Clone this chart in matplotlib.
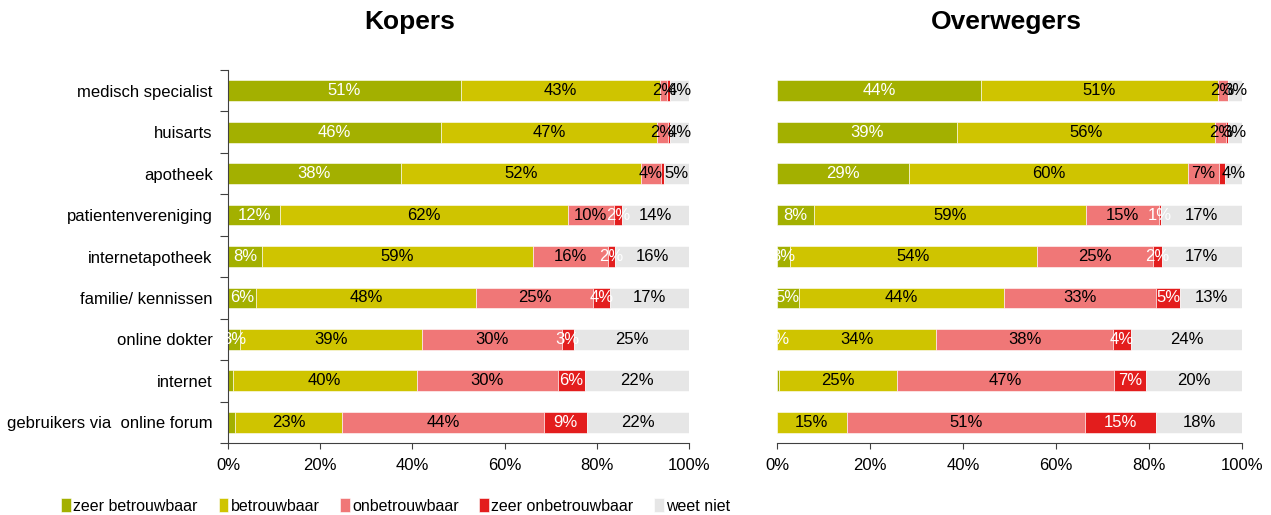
import matplotlib.pyplot as plt
import numpy as np

plt.rcParams['font.family'] = ['Liberation Sans', 'DejaVu Sans']

# categories, top to bottom
categories = ['medisch specialist', 'huisarts', 'apotheek', 'patientenvereniging',
              'internetapotheek', 'familie/ kennissen', 'online dokter', 'internet',
              'gebruikers via  online forum']
series = ['zeer betrouwbaar', 'betrouwbaar', 'onbetrouwbaar', 'zeer onbetrouwbaar', 'weet niet']
colors = ['#a3b000', '#cfc400', '#f07777', '#e31d1d', '#e6e6e6']
text_colors = ['white', 'black', 'black', 'white', 'black']

# Kopers
kop_zeer_betr = [50.5, 46.2, 37.5, 11.3, 7.3, 6.1, 2.6, 1.0, 1.5]
kop_betr = [43.3, 46.8, 52.0, 62.4, 58.9, 47.8, 39.4, 39.9, 23.2]
kop_onbetr = [1.5, 2.4, 4.4, 10.0, 16.2, 25.2, 30.4, 30.6, 43.8]
kop_zeer_onbetr = [0.6, 0.5, 0.7, 1.7, 1.6, 3.8, 2.6, 6.0, 9.4]
kop_weet_niet = [4.1, 4.1, 5.4, 14.6, 16.0, 17.1, 25.0, 22.5, 22.1]
kop_labels = [['51%', '46%', '38%', '12%', '8%', '6%', '3%', '', ''],
              ['43%', '47%', '52%', '62%', '59%', '48%', '39%', '40%', '23%'],
              ['2%', '2%', '4%', '10%', '16%', '25%', '30%', '30%', '44%'],
              ['', '', '', '2%', '2%', '4%', '3%', '6%', '9%'],
              ['4%', '4%', '5%', '14%', '16%', '17%', '25%', '22%', '22%']]

# Overwegers
ovw_zeer_betr = [43.8, 38.7, 28.4, 8.0, 2.7, 4.7, 0.0, 0.4, 0.0]
ovw_betr = [51.0, 55.6, 60.0, 58.4, 53.3, 44.1, 34.3, 25.3, 15.0]
ovw_onbetr = [2.1, 2.3, 6.7, 15.8, 24.9, 32.8, 38.0, 46.8, 51.2]
ovw_zeer_onbetr = [0.1, 0.3, 1.2, 0.3, 1.8, 5.1, 3.8, 6.9, 15.4]
ovw_weet_niet = [3.0, 3.1, 3.7, 17.5, 17.3, 13.3, 23.9, 20.6, 18.4]
ovw_labels = [['44%', '39%', '29%', '8%', '3%', '5%', '0%', '', ''],
              ['51%', '56%', '60%', '59%', '54%', '44%', '34%', '25%', '15%'],
              ['2%', '2%', '7%', '15%', '25%', '33%', '38%', '47%', '51%'],
              ['', '', '', '1%', '2%', '5%', '4%', '7%', '15%'],
              ['3%', '3%', '4%', '17%', '17%', '13%', '24%', '20%', '18%']]

kopers = [kop_zeer_betr, kop_betr, kop_onbetr, kop_zeer_onbetr, kop_weet_niet]
overwegers = [ovw_zeer_betr, ovw_betr, ovw_onbetr, ovw_zeer_onbetr, ovw_weet_niet]

fig = plt.figure(figsize=(12.71, 5.15), dpi=100)
ax1 = fig.add_axes([228/1271, 1-443/515, 461/1271, 373/515])
ax2 = fig.add_axes([777/1271, 1-443/515, 465/1271, 373/515])

y = np.arange(len(categories))
FS = 12


def draw(ax, data, labels, show_cats):
    left = np.zeros(len(categories))
    for i, vals in enumerate(data):
        vals = np.array(vals)
        ax.barh(y, vals, left=left, height=0.5, color=colors[i], edgecolor='white',
                linewidth=0.4, label=series[i])
        for j in range(len(categories)):
            if labels[i][j]:
                ax.text(left[j] + vals[j]/2, y[j], labels[i][j], ha='center', va='center',
                        fontsize=FS, color=text_colors[i])
        left += vals
    ax.set_xlim(0, 100)
    ax.set_ylim(len(categories) - 0.5, -0.5)
    ax.set_xticks(np.arange(0, 101, 20))
    ax.set_xticklabels([f'{v}%' for v in range(0, 101, 20)], fontsize=FS)
    ax.tick_params(axis='x', direction='out', length=4, color='#404040', pad=7)
    for s in ['top', 'right']:
        ax.spines[s].set_visible(False)
    ax.spines['bottom'].set_color('#404040')
    if show_cats:
        ax.set_yticks(np.arange(-0.5, len(categories)), minor=False)
        ax.set_yticklabels([])
        ax.set_yticks(y, minor=True)
        ax.set_yticklabels(categories, minor=True, fontsize=FS)
        ax.tick_params(axis='y', which='major', direction='out', length=6, color='#404040')
        ax.tick_params(axis='y', which='minor', length=0, pad=11)
        ax.spines['left'].set_color('#404040')
    else:
        ax.set_yticks([])
        ax.spines['left'].set_visible(False)


draw(ax1, kopers, kop_labels, True)
draw(ax2, overwegers, ovw_labels, False)

fig.text(410/1271, 1-22/515, 'Kopers', ha='center', va='center', fontsize=19, fontweight='bold')
fig.text(1006/1271, 1-22/515, 'Overwegers', ha='center', va='center', fontsize=19, fontweight='bold')

handles, lbls = ax1.get_legend_handles_labels()
fig.legend(handles, lbls, loc='center left', bbox_to_anchor=(55/1271, 1-506/515), ncol=5,
           frameon=False, fontsize=11.5, handlelength=0.6, handleheight=0.9,
           handletextpad=0.15, columnspacing=1.3, borderaxespad=0)

plt.savefig('out.png', dpi=100)
